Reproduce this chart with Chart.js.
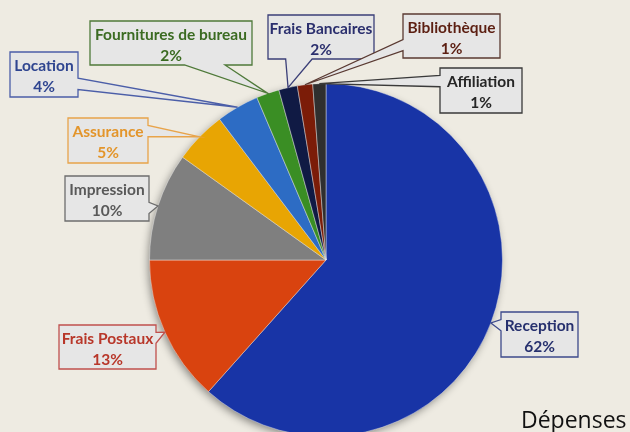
<!DOCTYPE html>
<html lang="fr">
<head>
<meta charset="utf-8">
<title>Dépenses</title>
<script src="https://cdn.jsdelivr.net/npm/chart.js@4.4.1/dist/chart.umd.min.js"></script>
<style>
  html, body { margin: 0; padding: 0; background: #eeebe2; overflow: hidden; }
  #wrap { width: 630px; height: 460px; }
</style>
</head>
<body>
<div id="wrap"><canvas id="depenses" width="630" height="460"></canvas></div>
<script>
// données (en %)
const categories = ['Reception', 'Frais Postaux', 'Impression', 'Assurance', 'Location',
  'Fournitures de bureau', 'Frais Bancaires', 'Bibliothèque', 'Affiliation'];
const depenses = [61.6, 13.4, 9.9, 4.8, 3.9, 2.1, 1.7, 1.4, 1.2];
const chartTitle = 'Dépenses';

// couleurs des parts
const sliceColors = ['#1834a6', '#d9430f', '#7f7f7f', '#e8a503', '#2d6cc4',
  '#3a8e24', '#101a44', '#7b1c08', '#2f2f2f'];
// couleurs du texte et du cadre des étiquettes
const textColors = ['#26306e', '#b8372a', '#595959', '#e3952b', '#2f4590',
  '#3b6b22', '#2b2f6e', '#5c1f12', '#262626'];
const borderColors = ['#3d4a8c', '#c0504d', '#6d6d6d', '#e8a44a', '#4b5ea8',
  '#4f7a3a', '#3b3f78', '#5a3a32', '#3a3a3a'];

// position des bulles (x, y, largeur, hauteur)
const calloutBoxes = [
  [501, 312, 77, 45], [59, 325, 97, 44], [65, 176, 84, 45], [68, 118, 80, 45],
  [10, 52, 68, 45], [90, 21, 162, 44], [268, 15, 106, 44], [403, 14, 97, 44],
  [440, 68, 82, 45]
];

// bulle type "wedgeRectCallout" (pointe vers le milieu de la part)
function calloutPath(ctx, bx, by, w, h, tx, ty) {
  const hc = bx + w / 2, vc = by + h / 2;
  const dx = tx - hc, dy = ty - vc;
  const dq = dx * h / w;
  const x1 = bx + w * (dx > 0 ? 7 : 2) / 12, x2 = bx + w * (dx > 0 ? 10 : 5) / 12;
  const y1 = by + h * (dy > 0 ? 7 : 2) / 12, y2 = by + h * (dy > 0 ? 10 : 5) / 12;
  const vertical = Math.abs(dy) > Math.abs(dq);

  ctx.beginPath();
  ctx.moveTo(bx, by);
  if (vertical && dy < 0) { ctx.lineTo(x1, by); ctx.lineTo(tx, ty); ctx.lineTo(x2, by); }
  ctx.lineTo(bx + w, by);
  if (!vertical && dx > 0) { ctx.lineTo(bx + w, y1); ctx.lineTo(tx, ty); ctx.lineTo(bx + w, y2); }
  ctx.lineTo(bx + w, by + h);
  if (vertical && dy > 0) { ctx.lineTo(x2, by + h); ctx.lineTo(tx, ty); ctx.lineTo(x1, by + h); }
  ctx.lineTo(bx, by + h);
  if (!vertical && dx < 0) { ctx.lineTo(bx, y2); ctx.lineTo(tx, ty); ctx.lineTo(bx, y1); }
  ctx.closePath();
}

const calloutPlugin = {
  id: 'callouts',
  beforeDatasetsDraw(chart) {
    // ombre douce sous le camembert
    const arc = chart.getDatasetMeta(0).data[0];
    const { x, y, outerRadius } = arc.getProps(['x', 'y', 'outerRadius'], true);
    const ctx = chart.ctx;
    ctx.save();
    ctx.shadowColor = 'rgba(0, 0, 0, 0.45)';
    ctx.shadowBlur = 8;
    ctx.shadowOffsetX = -2;
    ctx.shadowOffsetY = 3;
    ctx.fillStyle = '#8a8a8a';
    ctx.beginPath();
    ctx.arc(x, y, outerRadius - 1, 0, Math.PI * 2);
    ctx.fill();
    ctx.restore();
  },
  afterDatasetsDraw(chart) {
    const ctx = chart.ctx;
    const meta = chart.getDatasetMeta(0);
    const total = depenses.reduce((a, b) => a + b, 0);

    meta.data.forEach((arc, i) => {
      const p = arc.getProps(['x', 'y', 'startAngle', 'endAngle', 'outerRadius'], true);
      const mid = (p.startAngle + p.endAngle) / 2;
      const tx = p.x + Math.cos(mid) * p.outerRadius;
      const ty = p.y + Math.sin(mid) * p.outerRadius;
      const [bx, by, w, h] = calloutBoxes[i];

      ctx.save();
      calloutPath(ctx, bx, by, w, h, tx, ty);
      ctx.fillStyle = '#e6e6e6';
      ctx.fill();
      ctx.lineWidth = 1.3;
      ctx.strokeStyle = borderColors[i];
      ctx.stroke();

      ctx.fillStyle = textColors[i];
      ctx.font = 'bold 15.5px Lato, "Open Sans", sans-serif';
      ctx.textAlign = 'center';
      ctx.textBaseline = 'middle';
      ctx.fillText(categories[i], bx + w / 2, by + 14);
      ctx.fillText(Math.round(depenses[i] / total * 100) + '%', bx + w / 2, by + 35);
      ctx.restore();
    });

    // titre coupé en bas à droite
    ctx.save();
    ctx.fillStyle = '#111111';
    ctx.font = '23px "Open Sans", sans-serif';
    ctx.textBaseline = 'alphabetic';
    ctx.fillText(chartTitle, 521, 428);
    ctx.restore();
  }
};

const ctx = document.getElementById('depenses').getContext('2d');
new Chart(ctx, {
  type: 'pie',
  data: {
    labels: categories,
    datasets: [{
      data: depenses,
      backgroundColor: sliceColors,
      borderColor: 'rgba(235, 235, 235, 0.45)',
      borderWidth: 1
    }]
  },
  options: {
    responsive: false,
    animation: false,
    layout: {
      padding: { left: 149, right: 127, top: 83, bottom: 23 }
    },
    plugins: {
      legend: { display: false },
      tooltip: { enabled: false }
    }
  },
  plugins: [calloutPlugin]
});
</script>
</body>
</html>
